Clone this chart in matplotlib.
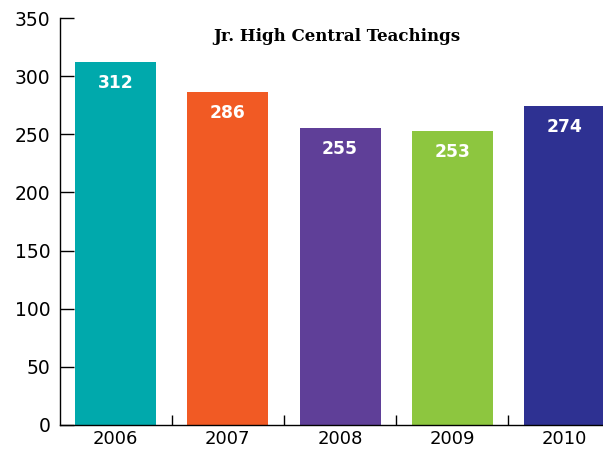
import matplotlib
matplotlib.use("Agg")
import matplotlib.pyplot as plt
from matplotlib.ticker import FixedLocator

years = ["2006", "2007", "2008", "2009", "2010"]
values = [312, 286, 255, 253, 274]
colors = ["#00A9AC", "#F15A24", "#5F3F98", "#8DC63F", "#2E3192"]
yticks = [0, 50, 100, 150, 200, 250, 300, 350]
title = "Jr. High Central Teachings"

plt.rcParams['font.family'] = ['DejaVu Sans']

fig = plt.figure(figsize=(6.03, 4.51), dpi=100)
ax = fig.add_axes([59.5 / 603, 26 / 451, 561.2 / 603, 407 / 451])

x = list(range(len(years)))
bars = ax.bar(x, values, width=0.72, color=colors, zorder=2)

for xi, v in zip(x, values):
    ax.annotate(str(v), xy=(xi, v), xytext=(0, -21), textcoords="offset pixels",
                ha="center", va="center", color="white", fontsize=12.3, fontweight="bold")

ax.set_xlim(-0.5, len(years) - 0.5)
ax.set_ylim(0, 350)
ax.set_yticks(yticks)
ax.set_xticks(x)
ax.set_xticklabels(years)
ax.xaxis.set_minor_locator(FixedLocator([i + 0.5 for i in range(len(years) - 1)]))
ax.tick_params(axis="x", which="major", length=0, pad=3.5, labelsize=13)
ax.tick_params(axis="x", which="minor", direction="in", length=7.5, width=1)
ax.tick_params(axis="y", which="major", direction="in", length=10, width=1, pad=6.5, labelsize=13.5)

for s in ["top", "right"]:
    ax.spines[s].set_visible(False)
for s in ["left", "bottom"]:
    ax.spines[s].set_linewidth(1)

fig.text(337 / 603, 1 - 41 / 451, title, ha="center", va="baseline",
         family=["DejaVu Serif"], fontweight="bold", fontsize=12)

fig.savefig("out.png", dpi=100)
